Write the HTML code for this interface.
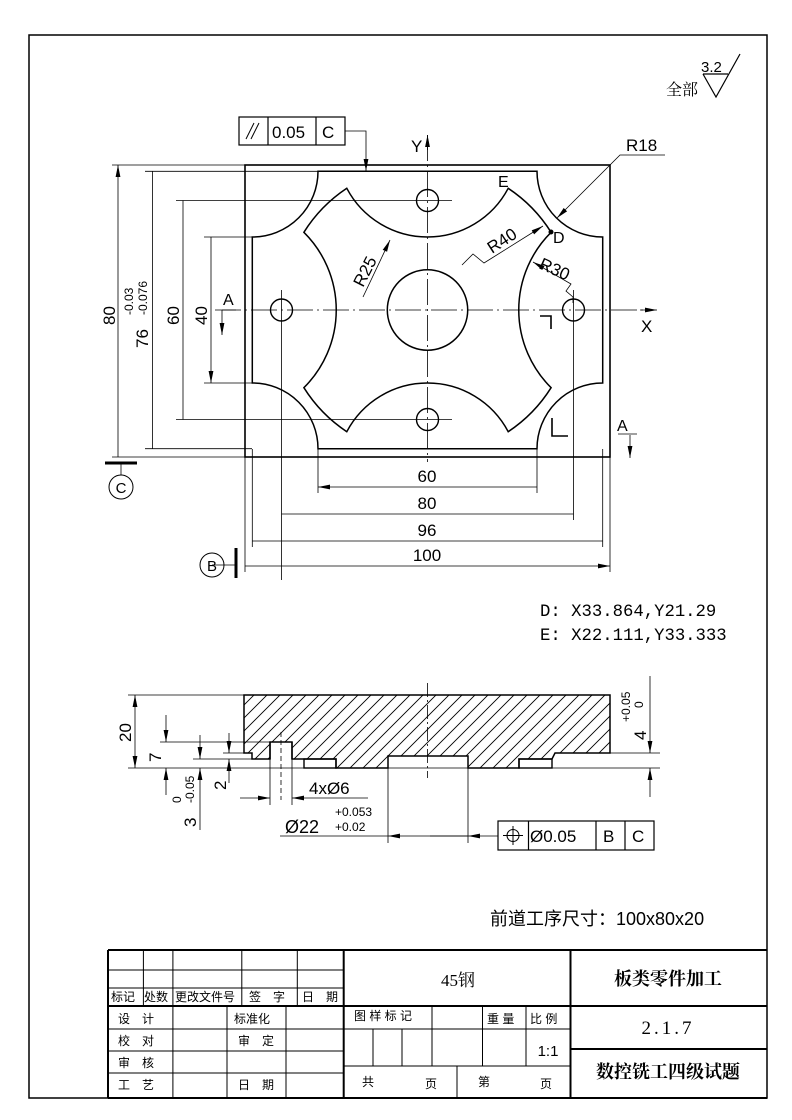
<!DOCTYPE html>
<html><head><meta charset="utf-8"><style>
html,body{margin:0;padding:0;background:#fff}
svg{display:block}
text{font-family:"Liberation Sans","Noto Sans CJK SC",sans-serif;fill:#000}
.s{font-family:"Liberation Serif","Noto Serif CJK SC",serif}
</style></head><body>
<svg width="792" height="1120" viewBox="0 0 792 1120" xmlns="http://www.w3.org/2000/svg">
<defs>
<marker id="a" viewBox="0 0 12 6" refX="12" refY="3" markerWidth="12" markerHeight="6" markerUnits="userSpaceOnUse" orient="auto-start-reverse"><path d="M0,0.6 L12,3 L0,5.4Z" fill="#000"/></marker>
<pattern id="h" width="13" height="13" patternUnits="userSpaceOnUse"><path d="M-1,14 L14,-1 M-1,1 L1,-1 M12,14 L14,12" stroke="#000" stroke-width="0.9"/></pattern>
</defs>
<rect width="792" height="1120" fill="#fff"/>
<rect x="29" y="35" width="738" height="1063" fill="none" stroke="#000" stroke-width="1.5"/>

<text x="666" y="95" class="s" font-size="16">全部</text>
<text x="701" y="72" font-size="15">3.2</text>
<path d="M703,74 L728,74 M703,74 L716,97 L740,54" fill="none" stroke="#000" stroke-width="1.2"/>

<g fill="none" stroke="#000">
<rect x="245" y="165" width="365" height="292" stroke-width="1.6"/>
<path d="M318,171.3 L537,171.3 A65.7 65.7 0 0 0 602.7,237 L602.7,383 A65.7 65.7 0 0 0 537,448.7 L318,448.7 A65.7 65.7 0 0 0 252.3,383 L252.3,237 A65.7 65.7 0 0 0 318,171.3Z" stroke-width="1.5"/>
<path d="M346.8,188.3 A91.25 91.25 0 0 0 508.2,188.3 A146 146 0 0 1 551.1,232.3 A109.5 109.5 0 0 0 551.1,387.7 A146 146 0 0 1 508.2,431.7 A91.25 91.25 0 0 0 346.8,431.7 A146 146 0 0 1 303.9,387.7 A109.5 109.5 0 0 0 303.9,232.3 A146 146 0 0 1 346.8,188.3Z" stroke-width="1.5"/>
<circle cx="427.5" cy="310" r="40.2" stroke-width="1.5"/>
<circle cx="427.5" cy="200.5" r="11" stroke-width="1.4"/>
<circle cx="427.5" cy="419.5" r="11" stroke-width="1.4"/>
<circle cx="281.5" cy="310" r="11" stroke-width="1.4"/>
<circle cx="573.5" cy="310" r="11" stroke-width="1.4"/>
<g stroke-width="0.8">
<path d="M427.5,135 V462" stroke-dasharray="26,4,2,4"/>
<path d="M215,310 H652" stroke-dasharray="26,4,2,4"/>
<path d="M281.5,290 V580 M573.5,290 V520 M318,449 V493 M537,449 V493 M252.3,449 V547 M602.7,449 V547 M245,457 V572 M610,457 V572"/>
<path d="M112,165 H245 M145,171.3 H318 M176,200.5 H452 M176,419.5 H452 M204,237 H252.3 M204,383 H252.3 M112,457 H245 M145,448.7 H252"/>
<path d="M118,165 V457 M152.5,171.3 V448.7 M183,200.5 V419.5 M211,237 V383" marker-start="url(#a)" marker-end="url(#a)"/>
<path d="M318,487 H537 M281.5,514 H573.5 M252.3,541 H602.7 M245,566 H610" marker-start="url(#a)" marker-end="url(#a)"/>
<path d="M427.5,150 V135" marker-end="url(#a)"/>
<path d="M640,310 H657" marker-end="url(#a)"/>
<path d="M345,131 H366 V171" marker-end="url(#a)"/>
<path d="M665,155 H620 L557,218" marker-end="url(#a)"/>
<path d="M462,265 L473,254 L484,263 L543,226" marker-end="url(#a)"/>
<path d="M363,297 L390,240" marker-end="url(#a)"/>
<path d="M573,303 V297 L566,291 L571,284 L533,262" marker-end="url(#a)"/>
<path d="M222,310 H236 M222,310 V335" marker-end="url(#a)"/>
<path d="M630,435 V458" marker-end="url(#a)"/>
<path d="M618,434 H637"/>
<path d="M121,463 V475 M212,565 H236"/>
</g>
<path d="M105,463 H137 M236,548 V578" stroke-width="3"/>
<path d="M540,316 H551 V329 M552,418 V436 H568" stroke-width="1.6"/>
<circle cx="121" cy="487" r="12" stroke-width="1"/>
<circle cx="212" cy="565" r="12" stroke-width="1"/>
<rect x="239" y="117" width="106" height="28" stroke-width="1.2"/>
<path d="M268,117 V145 M316,117 V145" stroke-width="1.2"/>
<path d="M246,139 L254,123 M251,139 L259,123" stroke-width="1"/>
</g>
<circle cx="551" cy="232" r="2.5"/>
<text x="272" y="138" font-size="17">0.05</text>
<text x="322" y="138" font-size="17">C</text>
<text x="411" y="152" font-size="17">Y</text>
<text x="641" y="332" font-size="17">X</text>
<text x="626" y="151" font-size="17">R18</text>
<text x="498" y="187" font-size="16">E</text>
<text x="553" y="243" font-size="16">D</text>
<text x="0" y="0" font-size="17" transform="translate(492,254) rotate(-33)">R40</text>
<text x="0" y="0" font-size="17" transform="translate(363,288) rotate(-63)">R25</text>
<text x="0" y="0" font-size="17" transform="translate(538,268) rotate(24)">R30</text>
<text x="223" y="305" font-size="16">A</text>
<text x="617" y="431" font-size="16">A</text>
<text x="0" y="0" font-size="17" transform="translate(115,325) rotate(-90)">80</text>
<text x="0" y="0" font-size="17" transform="translate(148,348) rotate(-90)">76</text>
<text x="0" y="0" font-size="12" transform="translate(133,315) rotate(-90)">-0.03</text>
<text x="0" y="0" font-size="12" transform="translate(147,315) rotate(-90)">-0.076</text>
<text x="0" y="0" font-size="17" transform="translate(179,325) rotate(-90)">60</text>
<text x="0" y="0" font-size="17" transform="translate(207,325) rotate(-90)">40</text>
<text x="427" y="482" font-size="17" text-anchor="middle">60</text>
<text x="427" y="509" font-size="17" text-anchor="middle">80</text>
<text x="427" y="536" font-size="17" text-anchor="middle">96</text>
<text x="427" y="561" font-size="17" text-anchor="middle">100</text>
<text x="121" y="493" font-size="15" text-anchor="middle">C</text>
<text x="212" y="571" font-size="15" text-anchor="middle">B</text>

<text x="540" y="616" style="font-family:'Liberation Mono',monospace" font-size="17.3">D: X33.864,Y21.29</text>
<text x="540" y="640" style="font-family:'Liberation Mono',monospace" font-size="17.3">E: X22.111,Y33.333</text>

<path d="M244,695 H610 V753 H555 L552,759 H519 V768 H468 V756 H388 V768 H336 V759 H292 V742 H270 V759 H252 V753 H244Z" fill="url(#h)" stroke="#000" stroke-width="1.5"/>
<g fill="none" stroke="#000">
<rect x="304" y="759" width="32" height="9" stroke-width="1.4"/>
<rect x="519" y="759" width="33" height="9" stroke-width="1.4"/>
<path d="M270,742 V759 M292,742 V759" stroke-width="1.4"/>
<g stroke-width="0.8">
<path d="M427.5,683 V778" stroke-dasharray="14,3,2,3"/>
<path d="M281,732 V800" stroke-dasharray="5,3"/>
<path d="M128,695 H244 M128,768 H660 M160,742 H270 M193,759 H252 M223,753 H244 M610,753 H660 M270,759 V805 M292,759 V805 M388,768 V843 M468,768 V843"/>
<path d="M135,695 V768" marker-start="url(#a)" marker-end="url(#a)"/>
<path d="M166,715 V742" marker-end="url(#a)"/><path d="M166,795 V768" marker-end="url(#a)"/>
<path d="M200,735 V759" marker-end="url(#a)"/><path d="M200,830 V768" marker-end="url(#a)"/>
<path d="M229,733 V753" marker-end="url(#a)"/><path d="M229,783 V759" marker-end="url(#a)"/>
<path d="M650,676 V753" marker-end="url(#a)"/><path d="M650,797 V768" marker-end="url(#a)"/>
<path d="M240,798 H270" marker-end="url(#a)"/><path d="M368,798 H292" marker-end="url(#a)"/>
<path d="M280,836 H468 M430,836 H388" marker-end="url(#a)"/><path d="M430,836 H468"/><path d="M498,836 H468" marker-end="url(#a)"/>
</g>
<rect x="498" y="821" width="156" height="29" stroke-width="1.2"/>
<path d="M528.5,821 V850 M596,821 V850 M625,821 V850" stroke-width="1.2"/>
<circle cx="513" cy="835.5" r="6" stroke-width="1"/>
<path d="M513,826 V845 M503,835.5 H523" stroke-width="1"/>
</g>
<text x="0" y="0" font-size="17" transform="translate(131,742) rotate(-90)">20</text>
<text x="0" y="0" font-size="17" transform="translate(161,762) rotate(-90)">7</text>
<text x="0" y="0" font-size="17" transform="translate(196,827) rotate(-90)">3</text>
<text x="0" y="0" font-size="12" transform="translate(181,803) rotate(-90)">0</text>
<text x="0" y="0" font-size="12" transform="translate(194,803) rotate(-90)">-0.05</text>
<text x="0" y="0" font-size="17" transform="translate(226,790) rotate(-90)">2</text>
<text x="0" y="0" font-size="17" transform="translate(646,740) rotate(-90)">4</text>
<text x="0" y="0" font-size="12" transform="translate(630,722) rotate(-90)">+0.05</text>
<text x="0" y="0" font-size="12" transform="translate(643,708) rotate(-90)">0</text>
<text x="309" y="794" font-size="17">4xØ6</text>
<text x="285" y="833" font-size="18">Ø22</text>
<text x="335" y="816" font-size="12">+0.053</text>
<text x="335" y="831" font-size="12">+0.02</text>
<text x="530" y="842" font-size="17">Ø0.05</text>
<text x="603" y="842" font-size="17">B</text>
<text x="632" y="842" font-size="17">C</text>

<text x="490" y="925" font-size="18">前道工序尺寸：100x80x20</text>

<g fill="none" stroke="#000">
<path d="M108,950 H767 M108,1098 H767 M108,950 V1098 M343.7,950 V1098 M570.5,950 V1098" stroke-width="2"/>
<path d="M108,1006 H570.5 M570.5,1006 H767 M570.5,1049 H767" stroke-width="2"/>
<g stroke-width="1">
<path d="M108,970 H343.7 M108,988 H343.7 M143.4,950 V1006 M172.9,950 V1006 M241.8,950 V1006 M297.3,950 V1006"/>
<path d="M108,1029 H343.7 M108,1051 H343.7 M108,1073 H343.7 M172.9,1006 V1098 M227,1006 V1098 M286,1006 V1098"/>
<path d="M343.7,1029 H570.5 M343.7,1066 H570.5 M373,1029 V1066 M402,1029 V1066 M432,1006 V1066 M482.5,1006 V1066 M526,1006 V1066 M457,1066 V1098"/>
</g>
</g>
<g font-size="12" style="font-family:'Liberation Serif','Noto Serif CJK SC',serif">
<text x="111" y="1001">标记</text><text x="144" y="1001">处数</text><text x="175" y="1001">更改文件号</text><text x="249" y="1001">签　字</text><text x="302" y="1001">日　期</text>
<text x="118" y="1023">设　计</text><text x="234" y="1023">标准化</text>
<text x="118" y="1045">校　对</text><text x="238" y="1045">审　定</text>
<text x="118" y="1067">审　核</text>
<text x="118" y="1089">工　艺</text><text x="238" y="1089">日　期</text>
<text x="354" y="1020">图 样 标 记</text><text x="487" y="1023">重 量</text><text x="530" y="1023">比 例</text>
<text x="362" y="1086">共</text><text x="425" y="1088">页</text><text x="478" y="1086">第</text><text x="540" y="1088">页</text>
</g>
<text x="458" y="986" font-size="17" text-anchor="middle" style="font-family:'Liberation Serif','Noto Serif CJK SC',serif">45钢</text>
<text x="548" y="1056" font-size="15" text-anchor="middle">1:1</text>
<text x="668" y="985" font-size="18" font-weight="bold" text-anchor="middle" style="font-family:'Noto Serif CJK SC',serif">板类零件加工</text>
<text x="668" y="1034" font-size="19" text-anchor="middle" letter-spacing="3" style="font-family:'Liberation Serif',serif">2.1.7</text>
<text x="668" y="1078" font-size="18" font-weight="bold" text-anchor="middle" style="font-family:'Noto Serif CJK SC',serif">数控铣工四级试题</text>
</svg>
</body></html>
